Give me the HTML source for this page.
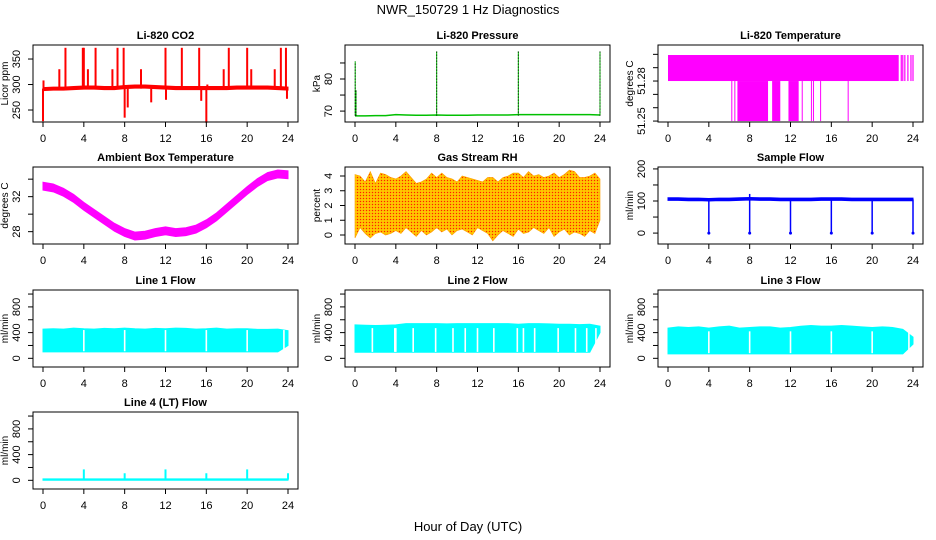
<!DOCTYPE html>
<html><head><meta charset="utf-8">
<style>
html,body{margin:0;padding:0;background:#fff;}
svg{display:block;font-family:"Liberation Sans",sans-serif;}
</style></head>
<body>
<svg id="c" width="936" height="540" viewBox="0 0 936 540">
<defs>
<pattern id="rhpat" width="3" height="3" patternUnits="userSpaceOnUse">
<rect width="3" height="3" fill="#ffb300"/>
<rect x="0" y="0" width="1" height="1" fill="#ff2000"/>
<rect x="1.5" y="1.5" width="1" height="1" fill="#ffff00"/>
</pattern>
</defs>
<text x="468" y="14" text-anchor="middle" font-size="13">NWR_150729  1 Hz Diagnostics</text>
<text x="468" y="531" text-anchor="middle" font-size="13">Hour of Day (UTC)</text>
</svg>
<script>
// ---- data ----
const xTickHours = [0,4,8,12,16,20,24];
const hourly = [0,1,2,3,4,5,6,7,8,9,10,11,12,13,14,15,16,17,18,19,20,21,22,23,24];
const halfHourly = [0,0.5,1,1.5,2,2.5,3,3.5,4,4.5,5,5.5,6,6.5,7,7.5,8,8.5,9,9.5,10,10.5,11,11.5,12,12.5,13,13.5,14,14.5,15,15.5,16,16.5,17,17.5,18,18.5,19,19.5,20,20.5,21,21.5,22,22.5,23,23.5,24];

const co2Base = [291,292,292,293,294,294,293,293,295,296,296,295,294,293,293,293,293,293,293,294,294,294,294,293,292];
const co2SpikeHours = [0.0,0.05,1.6,2.2,3.9,4.0,4.4,5.15,6.8,7.3,7.9,8.0,8.3,9.6,10.6,12.0,12.05,13.6,15.3,15.5,16.0,16.1,17.7,18.2,20.0,20.4,22.7,23.3,23.8,23.9];
const co2SpikeVals  = [228,308,330,372,372,372,330,372,330,372,372,235,255,330,265,372,270,372,372,268,225,300,330,372,372,330,330,372,372,272];

const presBase = [68.5,68.5,68.6,68.6,68.9,68.8,68.7,68.7,68.8,68.7,68.7,68.7,68.8,68.8,68.8,68.8,68.9,68.9,68.9,68.9,68.9,68.9,68.9,68.9,68.8];
const presSpikeHours = [0.02,0.1,8.0,16.0,24.0];
const presSpikeVals = [85.5,76.5,88.6,88.6,88.6];

const tempUpperRange = [0.0, 22.6];
const tempLow = 51.25, tempMid = 51.28, tempHigh = 51.2995;
const tempLowStart = [6.2,6.5,6.8,10.2,11.8,13.1,14.0,14.2,14.9,17.6];
const tempLowEnd   = [6.3,6.55,9.8,11.0,12.8,13.15,14.05,14.25,14.95,17.65];
const tempTailStripes = [22.85,23.0,23.2,23.5,23.8,24.0];

const ambMean = [33.2,33.0,32.5,31.8,30.9,30.1,29.3,28.5,27.9,27.5,27.6,27.9,28.1,27.9,28.0,28.3,28.9,29.7,30.7,31.7,32.7,33.6,34.3,34.6,34.5];

const rhMax = [4.1,4.0,3.6,4.3,3.5,4.2,4.1,3.9,3.8,4.0,4.3,3.9,3.5,3.6,3.8,4.2,3.9,4.2,3.9,3.8,3.6,4.0,3.9,3.8,3.7,3.6,3.9,3.9,3.6,3.9,4.0,4.2,4.2,3.9,4.3,4.0,4.1,3.9,4.0,4.2,3.9,4.1,4.4,4.3,3.9,3.9,4.0,4.2,3.8];
const rhMin = [-0.2,0.5,0.1,-0.2,0.1,0.2,0.0,0.1,0.3,0.1,0.5,0.2,-0.1,0.3,0.0,0.2,0.5,0.2,0.4,0.0,0.3,0.4,0.2,0.0,0.5,0.3,0.1,-0.4,0.0,0.3,0.1,-0.1,0.4,0.1,0.2,0.5,0.3,0.1,0.5,-0.1,0.2,0.4,0.0,0.2,0.1,-0.1,0.3,0.1,1.0];

const sampleBase = [106,106,105,105,104,105,105,106,107,106,106,105,105,105,105,106,106,106,105,105,105,105,105,105,105];
const sampleDipHours = [4,8,12,16,20,24];
const sampleDipVals = [0,0,0,0,0,0];
const sampleSpikeHours = [8.0];
const sampleSpikeVals = [122];

const line1Max = [455,460,455,470,460,455,465,460,470,460,455,465,460,470,465,455,460,470,455,460,460,450,450,455,430];
const line1Min = [100,100,100,100,100,100,100,100,100,100,100,100,100,100,100,100,100,100,100,100,100,100,100,100,200];
const line1Gaps = [4.0,8.0,12.0,16.0,20.0,23.6];

const line2Max = [520,515,510,515,520,540,540,540,540,535,540,540,540,540,540,540,530,540,540,535,530,530,525,530,500];
const line2Min = [95,95,95,95,95,95,95,95,95,95,95,95,95,95,95,95,95,95,95,95,95,95,95,95,400];
const line2Gaps = [1.7,3.9,4.0,5.7,7.9,9.6,10.8,12.0,13.6,15.9,16.5,17.6,19.9,21.6,22.7,23.6];

const line3Max = [470,490,480,490,470,490,500,470,480,490,490,470,480,500,510,500,500,510,500,490,480,490,480,450,330];
const line3Min = [70,70,70,70,70,70,70,70,70,70,70,70,70,70,70,70,70,70,70,70,70,70,70,70,220];
const line3Gaps = [4.0,8.0,12.0,16.0,20.0,23.6];

const line4Base = [12,12,12,12,12,12,12,12,12,12,12,12,12,12,12,12,12,12,12,12,12,12,12,12,12];
const line4SpikeHours = [4,8,12,16,20,24];
const line4SpikeVals = [170,110,170,110,170,110];

// ---- layout ----
const svg = document.getElementById('c');
const NS = 'http://www.w3.org/2000/svg';
const colL = [33, 345, 658];
const PW = 265;
const rowT = [45, 167, 290, 412];
const PH = 77;

function mk(tag, attrs, parent){
  const e = document.createElementNS(NS, tag);
  for (const k in attrs) e.setAttribute(k, attrs[k]);
  (parent||svg).appendChild(e);
  return e;
}

function panel(cfg){
  const L = colL[cfg.col], T = rowT[cfg.row], R = L+PW, B = T+PH;
  const g = mk('g', {});
  
  
  const x0 = L+10, x1 = R-10;
  const X = h => x0 + h*(x1-x0)/24;
  const Y = v => B - (v-cfg.dom[0])*(PH)/(cfg.dom[1]-cfg.dom[0]);
  const plot = mk('g', {}, g);
  
  
  cfg.draw(plot, X, Y);
  const box = mk('rect', {x:L, y:T, width:PW, height:PH, fill:'none', stroke:'#000', 'stroke-width':1}, g);
  
  
  const t = mk('text', {x:(L+R)/2, y:T-6, 'text-anchor':'middle', 'font-size':11, 'font-weight':'bold'}, g);
  t.textContent = cfg.title;
  
  
  const xa = mk('g', {}, g);
  
  
  xTickHours.forEach(h=>{
    mk('line', {x1:X(h), x2:X(h), y1:B, y2:B+5, stroke:'#000'}, xa);
    const lt = mk('text', {x:X(h), y:B+20, 'text-anchor':'middle', 'font-size':11}, xa);
    lt.textContent = h;
    
    
  });
  const ya = mk('g', {}, g);
  
  
  const tk = cfg.yTicks;
  tk.forEach(v=>{
    mk('line', {x1:L-5, x2:L, y1:Y(v), y2:Y(v), stroke:'#000'}, ya);
  });
  cfg.yLabels.forEach(v=>{
    const yt = mk('text', {x:0, y:0, 'text-anchor':'middle', 'font-size':11, transform:`translate(${L-13},${Y(v)}) rotate(-90)`}, ya);
    yt.textContent = v;
    
    
  });
  const yl = mk('text', {x:0, y:0, 'text-anchor':'middle', 'font-size':10, transform:`translate(${L-25},${(T+B)/2}) rotate(-90)`}, g);
  yl.textContent = cfg.ylab;
  
  
}

function band(p, X, Y, xs, mins, maxs, fill){
  let pts = xs.map((h,i)=>X(h)+','+Y(maxs[i]));
  let lo = xs.map((h,i)=>X(h)+','+Y(mins[i])).reverse();
  return mk('polygon', {points: pts.concat(lo).join(' '), fill: fill, stroke: fill, 'stroke-width':1}, p);
}
function pline(p, X, Y, xs, vs, col, w){
  return mk('polyline', {points: xs.map((h,i)=>X(h)+','+Y(vs[i])).join(' '), fill:'none', stroke:col, 'stroke-width':w}, p);
}
function spikes(p, X, Y, xs, vs, base, col, w, dash){
  xs.forEach((h,i)=>{
    const a = {x1:X(h), x2:X(h), y1:Y(base), y2:Y(vs[i]), stroke:col, 'stroke-width':w};
    if (dash) a['stroke-dasharray'] = dash;
    mk('line', a, p);
  });
}
function gaps(p, X, Y, xs, lo, hi){
  xs.forEach(h=>mk('line', {x1:X(h), x2:X(h), y1:Y(lo), y2:Y(hi), stroke:'#fff', 'stroke-width':1.6}, p));
}
const flowTicks = [0,200,400,600,800,1000];
const flowLabels = [0,400,800];
const flowDom = [-135,1063];

panel({name:'co2-panel', title:'Li-820 CO2', col:0, row:0, dom:[226.5,377.5], ylab:'Licor ppm',
  yTicks:[250,300,350], yLabels:[250,300,350],
  draw:(p,X,Y)=>{
    band(p,X,Y,hourly,co2Base.map(v=>v-3),co2Base.map(v=>v+3),'#ff0000');
    spikes(p,X,Y,co2SpikeHours,co2SpikeVals,292,'#ff0000',2);
  }});
panel({name:'pressure-panel', title:'Li-820 Pressure', col:1, row:0, dom:[66.6,90.6], ylab:'kPa',
  yTicks:[70,75,80,85], yLabels:[70,80],
  draw:(p,X,Y)=>{
    pline(p,X,Y,hourly,presBase,'#00c000',1.5);
    spikes(p,X,Y,presSpikeHours,presSpikeVals,68.6,'#00c000',1);
    spikes(p,X,Y,presSpikeHours,presSpikeVals,68.6,'#000',1,'1,2');
  }});
panel({name:'li820-temperature-panel', title:'Li-820 Temperature', col:2, row:0, dom:[51.2493,51.307], ylab:'degrees C',
  yTicks:[51.25,51.26,51.27,51.28,51.29,51.30], yLabels:[51.25,51.28],
  draw:(p,X,Y)=>{
    mk('rect',{x:X(tempUpperRange[0]), y:Y(tempHigh), width:X(tempUpperRange[1])-X(tempUpperRange[0]), height:Y(tempMid)-Y(tempHigh), fill:'#ff00ff'}, p);
    tempLowStart.forEach((s,i)=>{
      mk('rect',{x:X(s), y:Y(tempMid), width:Math.max(1,X(tempLowEnd[i])-X(s)), height:Y(tempLow)-Y(tempMid), fill:'#ff00ff'}, p);
    });
    tempTailStripes.forEach(h=>mk('rect',{x:X(h)-0.6, y:Y(tempHigh), width:1.2, height:Y(tempMid)-Y(tempHigh), fill:'#ff00ff'}, p));
  }});
panel({name:'ambient-temperature-panel', title:'Ambient Box Temperature', col:0, row:1, dom:[26.59,35.39], ylab:'degrees C',
  yTicks:[28,30,32,34], yLabels:[28,32],
  draw:(p,X,Y)=>{
    band(p,X,Y,hourly,ambMean.map(v=>v-0.45),ambMean.map(v=>v+0.45),'#ff00ff');
  }});
panel({name:'gas-rh-panel', title:'Gas Stream RH', col:1, row:1, dom:[-0.61,4.61], ylab:'percent',
  yTicks:[0,1,2,3,4], yLabels:[0,1,2,3,4],
  draw:(p,X,Y)=>{
    const b = band(p,X,Y,halfHourly,rhMin,rhMax,'url(#rhpat)');
    b.setAttribute('stroke','#ffa000');
    b.setAttribute('stroke-width','0.6');
  }});
panel({name:'sample-flow-panel', title:'Sample Flow', col:2, row:1, dom:[-34,206], ylab:'ml/min',
  yTicks:[0,50,100,150,200], yLabels:[0,100,200],
  draw:(p,X,Y)=>{
    band(p,X,Y,hourly,sampleBase.map(v=>v-4),sampleBase.map(v=>v+4),'#0000ff');
    spikes(p,X,Y,sampleDipHours,sampleDipVals,105,'#0000ff',1.5);
    sampleDipHours.forEach((h,i)=>mk('circle',{cx:X(h),cy:Y(sampleDipVals[i]),r:1.5,fill:'#0000ff'},p));
    spikes(p,X,Y,sampleSpikeHours,sampleSpikeVals,105,'#0000ff',1.5);
  }});
panel({name:'line1-flow-panel', title:'Line 1 Flow', col:0, row:2, dom:flowDom, ylab:'ml/min',
  yTicks:flowTicks, yLabels:flowLabels,
  draw:(p,X,Y)=>{
    band(p,X,Y,hourly,line1Min,line1Max,'#00ffff');
    gaps(p,X,Y,line1Gaps,110,440);
  }});
panel({name:'line2-flow-panel', title:'Line 2 Flow', col:1, row:2, dom:flowDom, ylab:'ml/min',
  yTicks:flowTicks, yLabels:flowLabels,
  draw:(p,X,Y)=>{
    band(p,X,Y,hourly,line2Min,line2Max,'#00ffff');
    gaps(p,X,Y,line2Gaps,100,470);
  }});
panel({name:'line3-flow-panel', title:'Line 3 Flow', col:2, row:2, dom:flowDom, ylab:'ml/min',
  yTicks:flowTicks, yLabels:flowLabels,
  draw:(p,X,Y)=>{
    band(p,X,Y,hourly,line3Min,line3Max,'#00ffff');
    gaps(p,X,Y,line3Gaps,80,420);
  }});
panel({name:'line4-flow-panel', title:'Line 4 (LT) Flow', col:0, row:3, dom:flowDom, ylab:'ml/min',
  yTicks:flowTicks, yLabels:flowLabels,
  draw:(p,X,Y)=>{
    band(p,X,Y,hourly,line4Base.map(v=>v-10),line4Base.map(v=>v+10),'#00ffff');
    spikes(p,X,Y,line4SpikeHours,line4SpikeVals,12,'#00ffff',2);
  }});
</script>
</body></html>
